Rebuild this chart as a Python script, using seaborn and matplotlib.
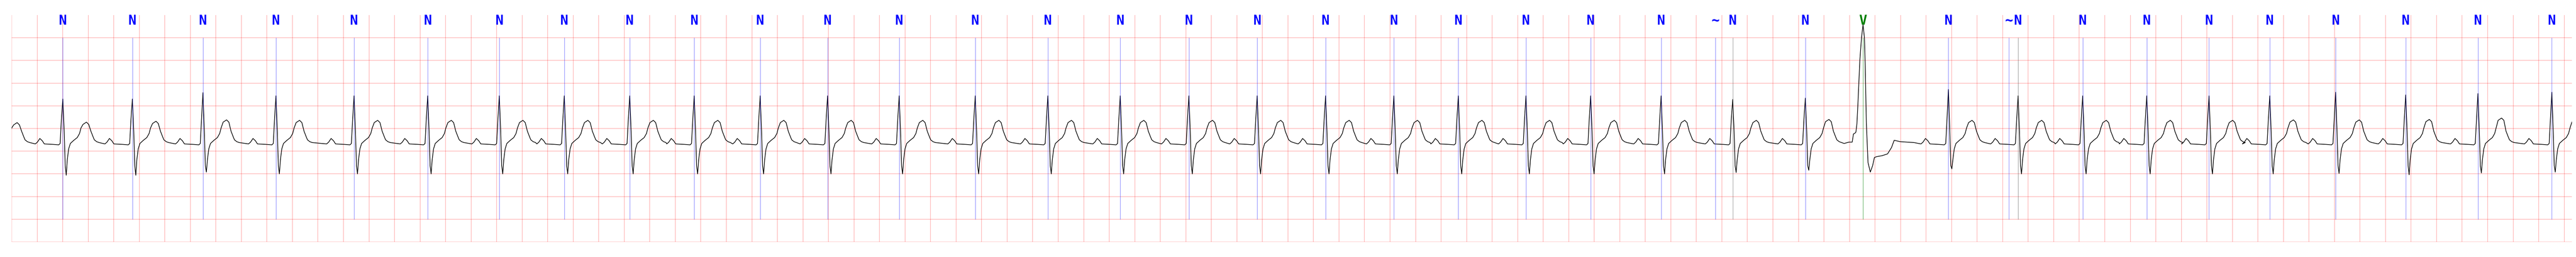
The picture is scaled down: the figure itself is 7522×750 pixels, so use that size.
import numpy as np
import pandas as pd
import matplotlib.pyplot as plt
import seaborn as sns

# beat annotations: time (s) and symbol
ann_time = [0.401, 0.946, 1.499, 2.071, 2.683, 3.260, 3.821, 4.330, 4.843, 5.348,
            5.865, 6.393, 6.954, 7.550, 8.119, 8.686, 9.224, 9.759, 10.295, 10.830,
            11.335, 11.865, 12.372, 12.924, 13.350, 13.485, 14.054, 14.506, 15.175, 15.648,
            15.721, 16.227, 16.729, 17.217, 17.693, 18.209, 18.758, 19.324, 19.903]
ann_sym = ["N"] * 24 + ["~", "N", "N", "V", "N", "~"] + ["N"] * 9

# beats in the trace (one leading beat sits just left of the window)
beat_time = [-0.142] + [t for t, s in zip(ann_time, ann_sym) if s != "~"]
beat_kind = ["N"] + [s for s in ann_sym if s != "~"]
r_amp = [0.70, 0.65, 0.65, 0.79, 0.72, 0.72, 0.72, 0.72, 0.72, 0.72, 0.72,
         0.72, 0.72, 0.72, 0.72, 0.72, 0.72, 0.72, 0.72, 0.72, 0.72,
         0.72, 0.72, 0.72, 0.72, 0.64, 0.67, 2.29, 0.86, 0.72, 0.72,
         0.72, 0.72, 0.72, 0.80, 0.74, 0.77, 0.80]
s_amp = [-1.00, -1.03, -1.03, -0.96, -1.00, -1.00, -1.00, -1.00, -1.00, -1.00, -1.00,
         -1.00, -1.00, -1.00, -1.00, -1.00, -1.00, -1.00, -1.00, -1.00, -1.00,
         -1.00, -1.00, -1.00, -1.00, -0.97, -0.92, -0.96, -0.89, -1.00, -1.00,
         -1.00, -1.00, -1.00, -0.99, -1.02, -0.98, -0.96]
t_amp = [0.13, 0.14, 0.16, 0.19, 0.18, 0.18, 0.18, 0.18, 0.18, 0.18, 0.18,
         0.18, 0.18, 0.18, 0.18, 0.18, 0.18, 0.18, 0.18, 0.18, 0.18,
         0.18, 0.18, 0.18, 0.18, 0.18, 0.20, 0.00, 0.18, 0.18, 0.18,
         0.18, 0.18, 0.19, 0.19, 0.20, 0.23, 0.20]

# normal beat shape: offset from R (s), level (mV)
n_dt = [-0.215, -0.199, -0.180, -0.161, -0.145, -0.080, -0.032, -0.021, -0.0115, 0.0,
        0.0107, 0.0188, 0.0268, 0.0349, 0.0456, 0.059, 0.086, 0.113, 0.131, 0.142,
        0.158, 0.185, 0.203, 0.220, 0.238, 0.247, 0.265, 0.284]
n_mv = [-0.34, -0.30, -0.22, -0.27, -0.34, -0.35, -0.36, -0.33, 0.19, "R",
        -0.06, -0.82, "S", -0.69, -0.45, -0.33, -0.26, -0.20, -0.11, 0.01,
        "T-", "T", "T-", -0.06, -0.19, -0.25, -0.29, -0.31]

# ventricular beat shape
v_dt = [-0.148, -0.110, -0.085, -0.075, -0.062, -0.056, -0.048, -0.040, -0.025, -0.012,
        0.0, 0.011, 0.017, 0.026, 0.039, 0.057, 0.075, 0.089, 0.107, 0.148,
        0.192, 0.223, 0.244, 0.291, 0.399]
v_mv = [-0.33, -0.30, -0.30, -0.12, -0.10, -0.08, 0.10, 0.55, 1.50, 2.00,
        2.29, 2.00, 1.39, 0.12, -0.75, -0.96, -0.82, -0.64, -0.62, -0.60,
        -0.56, -0.42, -0.26, -0.29, -0.31]

xs, ys = [], []
for t, k, r, s, tw in zip(beat_time, beat_kind, r_amp, s_amp, t_amp):
    if k == "V":
        xs += [t + d for d in v_dt]
        ys += v_mv
        continue
    for d, m in zip(n_dt, n_mv):
        xs.append(t + d)
        ys.append({"R": r, "S": s, "T": tw, "T-": tw - 0.05}.get(m, m) if isinstance(m, str) else m)

df = pd.DataFrame({"t": xs, "mv": ys})

sns.set_style("white")
fig = plt.figure(figsize=(75.22, 7.5), dpi=100)
ax = fig.add_axes([34 / 7522, 44 / 750, 7476 / 7522, 662 / 750])

sns.lineplot(data=df, x="t", y="mv", color="black", linewidth=1.4,
             estimator=None, sort=False, ax=ax)

sym_color = {"N": "blue", "V": "green", "~": "blue"}
line_color = {"N": (0, 0, 1, 0.5), "V": (0, 0.5, 0, 0.7), "~": (0, 0, 1, 0.5)}
prev = None
for t, s in zip(ann_time, ann_sym):
    lc = line_color[s]
    if prev == "~":
        lc = (0.3, 0.3, 0.3, 0.6)
    ax.vlines(t, -2.0, 2.0, color=lc, linewidth=1)
    ax.text(t, 2.29, s, ha="center", va="baseline", fontsize=28, fontweight="bold",
            family="DejaVu Sans Mono", color=sym_color[s])
    prev = s

ax.set_xlim(0, 20.06)
ax.set_ylim(-2.5, 2.5)
ax.set_xticks(np.arange(0, 20.01, 0.2))
ax.set_yticks(np.arange(-2.5, 2.01, 0.5))
ax.grid(True, color="red", alpha=0.25, linewidth=1.5)
ax.tick_params(length=0, labelbottom=False, labelleft=False)
ax.set_xlabel("")
ax.set_ylabel("")
for sp in ax.spines.values():
    sp.set_visible(False)

fig.savefig("out.png", dpi=100)
